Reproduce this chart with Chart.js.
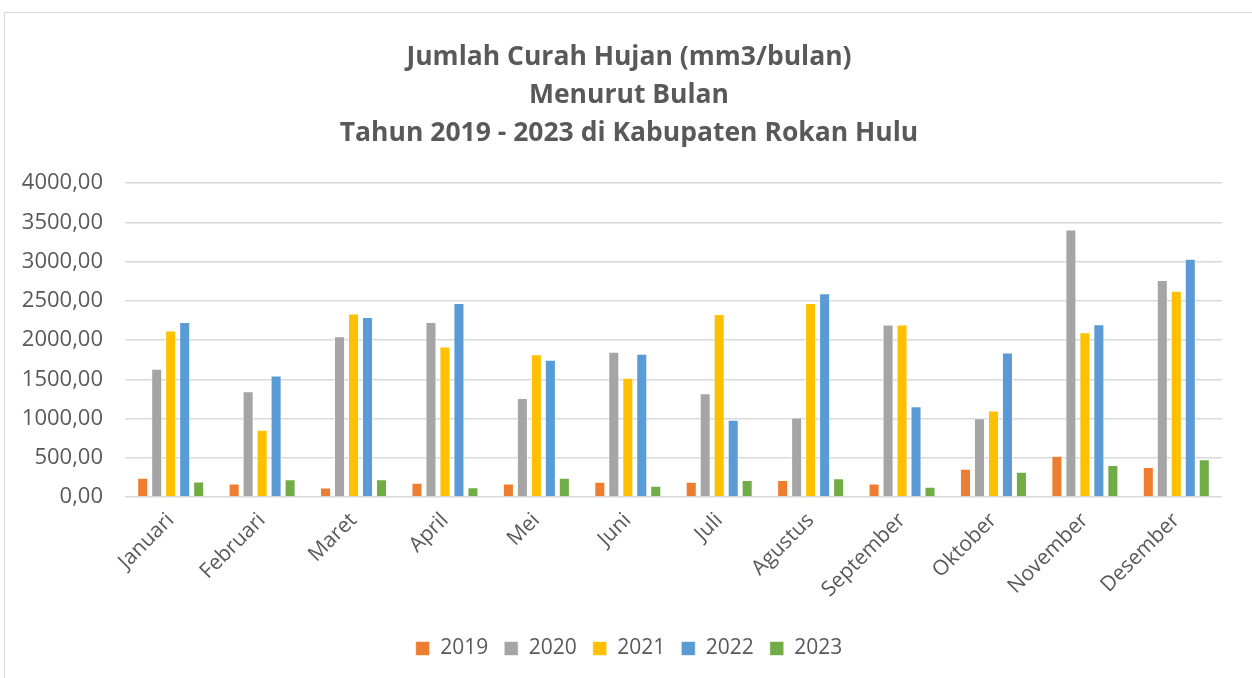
<!DOCTYPE html>
<html>
<head>
<meta charset="utf-8">
<script src="https://cdn.jsdelivr.net/npm/chart.js@4/dist/chart.umd.min.js"></script>
<style>
  html, body { margin: 0; padding: 0; background: #fff; }
  #wrap {
    position: absolute; left: 4px; top: 12px; width: 1248px; height: 666px;
    border-left: 1px solid #d9d9d9; border-top: 1px solid #d9d9d9;
  }
</style>
</head>
<body>
<div id="wrap"><canvas id="chart"></canvas></div>
<script>
const months = ["Januari", "Februari", "Maret", "April", "Mei", "Juni", "Juli",
  "Agustus", "September", "Oktober", "November", "Desember"];

const rain2019 = [245, 172, 120, 180, 172, 193, 193, 215, 172, 360, 524, 382];
const rain2020 = [1635, 1348, 2047, 2228, 1262, 1850, 1322, 1013, 2197, 1004, 3408, 2764];
const rain2021 = [2120, 858, 2339, 1918, 1820, 1519, 2330, 2472, 2197, 1103, 2099, 2627];
const rain2022 = [2228, 1549, 2292, 2472, 1747, 1824, 983, 2597, 1155, 1841, 2202, 3034];
const rain2023 = [197, 227, 227, 124, 245, 142, 215, 240, 129, 322, 408, 481];

const titleLines = [
  "Jumlah Curah Hujan (mm3/bulan)",
  "Menurut Bulan",
  "Tahun 2019 - 2023 di Kabupaten Rokan Hulu"
];

const textColor = "#595959";
const font = "'Open Sans', sans-serif";

function series(label, data, color) {
  return {
    label: label,
    data: data,
    backgroundColor: color,
    borderColor: "rgba(255,255,255,0.6)",
    borderWidth: 1,
    categoryPercentage: 0.765,
    barPercentage: 0.79
  };
}

new Chart(document.getElementById("chart"), {
  type: "bar",
  data: {
    labels: months,
    datasets: [
      series("2019", rain2019, "#ED7D31"),
      series("2020", rain2020, "#A5A5A5"),
      series("2021", rain2021, "#FFC000"),
      series("2022", rain2022, "#5B9BD5"),
      series("2023", rain2023, "#70AD47")
    ]
  },
  options: {
    responsive: true,
    maintainAspectRatio: false,
    animation: false,
    layout: { autoPadding: false, padding: { left: 0, right: 0, top: 25, bottom: 10 } },
    plugins: {
      title: {
        display: true,
        text: titleLines,
        color: textColor,
        font: { family: font, size: 26.5, weight: "bold", lineHeight: 1.434 },
        padding: { top: 0, bottom: 31 }
      },
      legend: {
        position: "bottom",
        labels: {
          color: textColor,
          font: { family: font, size: 21 },
          boxWidth: 14,
          boxHeight: 14,
          padding: 16
        }
      },
      tooltip: { enabled: false }
    },
    scales: {
      x: {
        grid: { display: false },
        border: { display: false },
        afterFit: s => { s.height = 125; },
        ticks: {
          color: textColor,
          font: { family: font, size: 21 },
          minRotation: 45,
          maxRotation: 45,
          autoSkip: false
        }
      },
      y: {
        min: 0,
        max: 4000,
        border: { display: false },
        grid: { color: "#d9d9d9", lineWidth: 1.5, drawTicks: false },
        afterFit: s => { s.width = 120; },
        ticks: {
          stepSize: 500,
          color: textColor,
          font: { family: font, size: 22 },
          padding: 22,
          callback: v => v.toFixed(2).replace(".", ",")
        }
      },
      // empty right-hand spacer so the plot ends where the reference does
      spacer: {
        position: "right",
        min: 0,
        max: 4000,
        border: { display: false },
        grid: { display: false },
        ticks: { display: false },
        afterFit: s => { s.width = 31; }
      }
    }
  }
});
</script>
</body>
</html>
